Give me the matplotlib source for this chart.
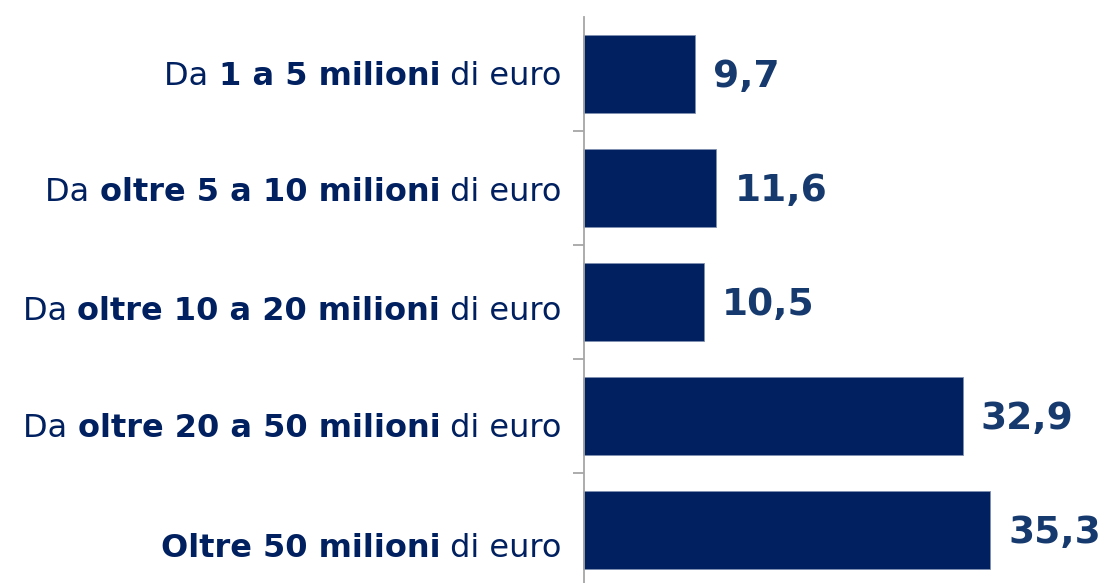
import matplotlib.pyplot as plt
import numpy as np

# categories split into (before, bold, after) pieces
pre = ['Da ', 'Da ', 'Da ', 'Da ', '']
bold = ['1 a 5 milioni', 'oltre 5 a 10 milioni', 'oltre 10 a 20 milioni',
        'oltre 20 a 50 milioni', 'Oltre 50 milioni']
post = [' di euro', ' di euro', ' di euro', ' di euro', ' di euro']
values = [9.7, 11.6, 10.5, 32.9, 35.3]

bar_col = '#002060'
txt_col = '#002060'
val_col = '#163a6e'
lab_drop = [2, 3, 7, 9, 13]   # small downward shift of category labels (pt)

W, H = 1104, 583
fig = plt.figure(figsize=(W / 100, H / 100), dpi=100)
ax = fig.add_axes([582.5 / W, -4 / H, (W - 582.5) / W, 570 / H])

y = np.arange(len(values))
ax.barh(y, values, height=0.68, color=bar_col, edgecolor='#8090b0', linewidth=0.6)
ax.set_ylim(4.5, -0.5)
ax.set_xlim(0, 45.15)

for s in ['top', 'right', 'bottom']:
    ax.spines[s].set_visible(False)
ax.spines['left'].set_color('#a6a6a6')
ax.spines['left'].set_linewidth(1.3)
ax.spines['left'].set_position(('outward', -0.8))
ax.spines['left'].set_zorder(3)
ax.set_xticks([])
ax.set_yticks([])
ax.set_yticks([0.5, 1.5, 2.5, 3.5], minor=True)
ax.tick_params(axis='y', which='minor', length=8, width=1.3, color='#a6a6a6',
               labelleft=False)

fs = 23
for i in range(len(values)):
    t = ax.annotate(post[i], xy=(0, i), xytext=(-15, -lab_drop[i]),
                    textcoords='offset points', ha='right', va='center',
                    fontsize=fs, color=txt_col, annotation_clip=False)
    t = ax.annotate(bold[i], xy=(0, 0), xycoords=t, ha='right', va='bottom',
                    fontsize=fs, color=txt_col, fontweight='bold')
    if pre[i]:
        ax.annotate(pre[i], xy=(0, 0), xycoords=t, ha='right', va='bottom',
                    fontsize=fs, color=txt_col)
    ax.annotate(f'{values[i]:.1f}'.replace('.', ','), xy=(values[i], i),
                xytext=(13, -2), textcoords='offset points', ha='left',
                va='center', fontsize=27, fontweight='bold', color=val_col,
                annotation_clip=False)

fig.savefig('out.png', dpi=100)
